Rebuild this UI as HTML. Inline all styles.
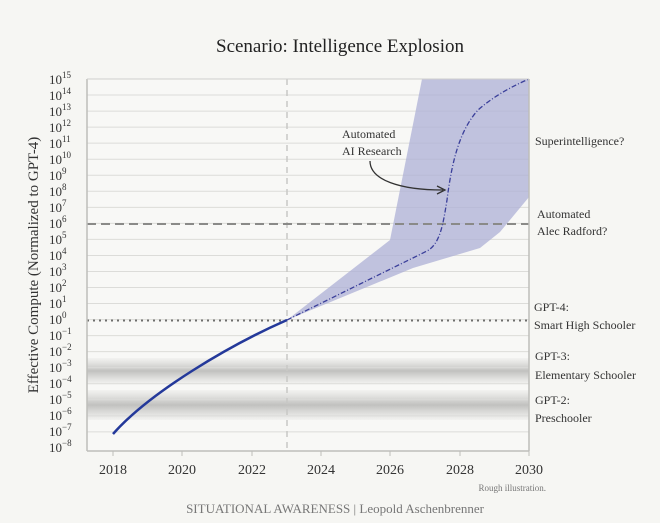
<!DOCTYPE html>
<html><head><meta charset="utf-8"><style>
html,body{margin:0;padding:0;background:#f6f6f3;}
svg{display:block;font-family:"Liberation Serif",serif;}
</style></head><body>
<svg width="660" height="523" viewBox="0 0 660 523" xmlns="http://www.w3.org/2000/svg">
<defs>
<linearGradient id="band" x1="0" y1="0" x2="0" y2="1">
<stop offset="0" stop-color="#bdbdbb" stop-opacity="0.1"/>
<stop offset="0.5" stop-color="#a9a9a7" stop-opacity="0.7"/>
<stop offset="1" stop-color="#bdbdbb" stop-opacity="0.1"/>
</linearGradient>
</defs>
<rect width="660" height="523" fill="#f6f6f3"/>
<text x="340" y="52" font-size="19" text-anchor="middle" fill="#222">Scenario: Intelligence Explosion</text>
<rect x="87" y="79" width="442" height="372" fill="#f8f8f6"/>
<rect x="87" y="358" width="442" height="26" fill="url(#band)"/>
<rect x="87" y="390" width="442" height="30" fill="url(#band)"/>
<g stroke="#dcdcd9" stroke-width="1">
<line x1="87" x2="529" y1="95.04" y2="95.04"/><line x1="87" x2="529" y1="111.08" y2="111.08"/><line x1="87" x2="529" y1="127.12" y2="127.12"/><line x1="87" x2="529" y1="143.16" y2="143.16"/><line x1="87" x2="529" y1="159.2" y2="159.2"/><line x1="87" x2="529" y1="175.24" y2="175.24"/><line x1="87" x2="529" y1="191.28" y2="191.28"/><line x1="87" x2="529" y1="207.32" y2="207.32"/><line x1="87" x2="529" y1="223.36" y2="223.36"/><line x1="87" x2="529" y1="239.4" y2="239.4"/><line x1="87" x2="529" y1="255.44" y2="255.44"/><line x1="87" x2="529" y1="271.48" y2="271.48"/><line x1="87" x2="529" y1="287.52" y2="287.52"/><line x1="87" x2="529" y1="303.56" y2="303.56"/><line x1="87" x2="529" y1="319.6" y2="319.6"/><line x1="87" x2="529" y1="335.64" y2="335.64"/><line x1="87" x2="529" y1="351.68" y2="351.68"/><line x1="87" x2="529" y1="367.72" y2="367.72"/><line x1="87" x2="529" y1="383.76" y2="383.76"/><line x1="87" x2="529" y1="399.8" y2="399.8"/><line x1="87" x2="529" y1="415.84" y2="415.84"/><line x1="87" x2="529" y1="431.88" y2="431.88"/>
</g>
<path d="M287,320 L390,240 L422,79 L529,79 L529,197 L500,232 L480,248 L413,268 Z" fill="#aeb0d6" fill-opacity="0.75"/>
<line x1="287" y1="79" x2="287" y2="451" stroke="#c8c8c5" stroke-width="1.5" stroke-dasharray="6,5"/>
<line x1="87" y1="224" x2="529" y2="224" stroke="#8a8a88" stroke-width="2" stroke-dasharray="9,5"/>
<line x1="87" y1="320.5" x2="529" y2="320.5" stroke="#6e6e6c" stroke-width="2" stroke-dasharray="2,4"/>
<path d="M113,434 C150,392 230,345 287,320" fill="none" stroke="#24399a" stroke-width="2.5"/>
<path d="M287,320 L427,251 C440,244 443,225 447,200 C452,160 460,130 478,110 C495,95 515,85 529,79" fill="none" stroke="#3a3f9a" stroke-width="1.3" stroke-dasharray="5,2,1,2"/>
<path d="M370,161 C370,180 400,190 443,190" fill="none" stroke="#333" stroke-width="1.3"/>
<path d="M437,186 L445,190 L437,194" fill="none" stroke="#333" stroke-width="1.3"/>
<text x="342" y="138" font-size="12" fill="#333">Automated</text>
<text x="342" y="155" font-size="12" fill="#333">AI Research</text>
<line x1="87" y1="79" x2="87" y2="451" stroke="#bdbdba" stroke-width="1.5"/>
<line x1="87" y1="451" x2="529" y2="451" stroke="#bdbdba" stroke-width="1.5"/>
<line x1="529" y1="79" x2="529" y2="451" stroke="#bdbdba" stroke-width="1.5"/>
<line x1="87" y1="79" x2="529" y2="79" stroke="#cfcfcc" stroke-width="1"/>
<g stroke="#bdbdba" stroke-width="1">
<line x1="113" y1="451" x2="113" y2="456"/><line x1="182" y1="451" x2="182" y2="456"/><line x1="252" y1="451" x2="252" y2="456"/><line x1="321" y1="451" x2="321" y2="456"/><line x1="390" y1="451" x2="390" y2="456"/><line x1="460" y1="451" x2="460" y2="456"/><line x1="529" y1="451" x2="529" y2="456"/>
</g>
<g font-size="14" fill="#333" text-anchor="middle">
<text x="113" y="474">2018</text><text x="182" y="474">2020</text><text x="252" y="474">2022</text><text x="321" y="474">2024</text><text x="390" y="474">2026</text><text x="460" y="474">2028</text><text x="529" y="474">2030</text>
</g>
<g font-size="13" fill="#333">
<text x="49" y="84">10<tspan font-size="9" dy="-6">15</tspan></text>
<text x="49" y="100">10<tspan font-size="9" dy="-6">14</tspan></text>
<text x="49" y="116">10<tspan font-size="9" dy="-6">13</tspan></text>
<text x="49" y="132">10<tspan font-size="9" dy="-6">12</tspan></text>
<text x="49" y="148">10<tspan font-size="9" dy="-6">11</tspan></text>
<text x="49" y="164">10<tspan font-size="9" dy="-6">10</tspan></text>
<text x="49" y="180">10<tspan font-size="9" dy="-6">9</tspan></text>
<text x="49" y="196">10<tspan font-size="9" dy="-6">8</tspan></text>
<text x="49" y="212">10<tspan font-size="9" dy="-6">7</tspan></text>
<text x="49" y="228">10<tspan font-size="9" dy="-6">6</tspan></text>
<text x="49" y="244">10<tspan font-size="9" dy="-6">5</tspan></text>
<text x="49" y="260">10<tspan font-size="9" dy="-6">4</tspan></text>
<text x="49" y="276">10<tspan font-size="9" dy="-6">3</tspan></text>
<text x="49" y="292">10<tspan font-size="9" dy="-6">2</tspan></text>
<text x="49" y="308">10<tspan font-size="9" dy="-6">1</tspan></text>
<text x="49" y="324">10<tspan font-size="9" dy="-6">0</tspan></text>
<text x="49" y="340">10<tspan font-size="9" dy="-6">−1</tspan></text>
<text x="49" y="356">10<tspan font-size="9" dy="-6">−2</tspan></text>
<text x="49" y="372">10<tspan font-size="9" dy="-6">−3</tspan></text>
<text x="49" y="388">10<tspan font-size="9" dy="-6">−4</tspan></text>
<text x="49" y="404">10<tspan font-size="9" dy="-6">−5</tspan></text>
<text x="49" y="420">10<tspan font-size="9" dy="-6">−6</tspan></text>
<text x="49" y="436">10<tspan font-size="9" dy="-6">−7</tspan></text>
<text x="49" y="452">10<tspan font-size="9" dy="-6">−8</tspan></text>
</g>
<text transform="translate(38,265) rotate(-90)" font-size="15" fill="#333" text-anchor="middle">Effective Compute (Normalized to GPT-4)</text>
<g font-size="12" fill="#333">
<text x="535" y="145">Superintelligence?</text>
<text x="537" y="218">Automated</text><text x="537" y="235">Alec Radford?</text>
<text x="534" y="311">GPT-4:</text><text x="534" y="329">Smart High Schooler</text>
<text x="535" y="360">GPT-3:</text><text x="535" y="379">Elementary Schooler</text>
<text x="535" y="404">GPT-2:</text><text x="535" y="422">Preschooler</text>
</g>
<text x="546" y="491" font-size="9" fill="#777" text-anchor="end">Rough illustration.</text>
<text x="335" y="513" font-size="13" fill="#777" text-anchor="middle">SITUATIONAL AWARENESS | Leopold Aschenbrenner</text>
</svg>
</body></html>
